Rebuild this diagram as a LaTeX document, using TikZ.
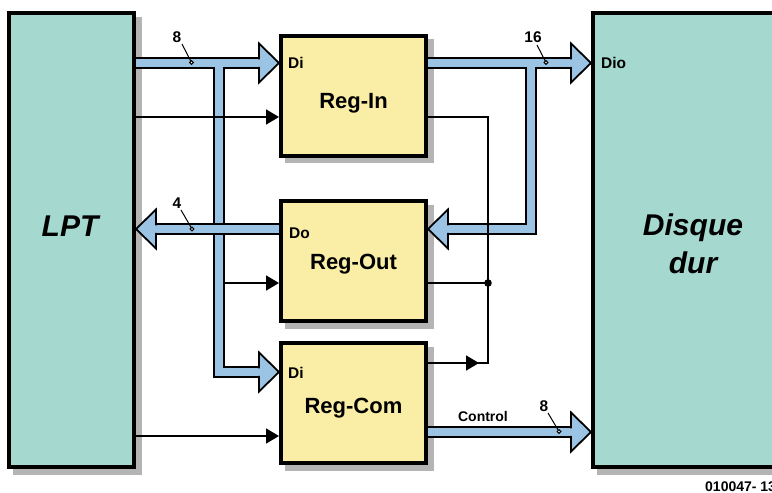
\documentclass[tikz,border=0pt]{standalone}
\usepackage{fontspec}
\setmainfont{Liberation Sans}
\setsansfont{Liberation Sans}
\usetikzlibrary{arrows.meta,calc}
\definecolor{boxteal}{HTML}{A5D9D0}
\definecolor{boxyellow}{HTML}{FAEEA6}
\definecolor{busblue}{HTML}{9BC4E4}
\definecolor{shadowgray}{HTML}{B4B4B4}
\pgfdeclarelayer{shadowlayer}
\pgfdeclarelayer{buslayer}
\pgfsetlayers{shadowlayer,buslayer,main}
\begin{document}
\begin{tikzpicture}[x=1pt,y=-1pt,
  blockbox/.style={draw=black, line width=4pt, inner sep=0pt, minimum width=145pt, minimum height=120pt, fill=boxyellow},
  sidebox/.style={draw=black, line width=4pt, inner sep=0pt, fill=boxteal, minimum height=454pt},
  busout/.style={line width=11.5pt, draw=black, line join=miter},
  busin/.style={line width=7.5pt, draw=busblue, line join=miter},
  headline/.style={line width=1.8pt, draw=black, line join=miter},
  sig/.style={line width=1.6pt, draw=black},
  sigarrow/.style={sig, -{Triangle[length=13pt,width=15pt]}},
  bigtxt/.style={font=\fontsize{30}{36}\selectfont\bfseries\itshape, anchor=base, inner sep=0pt},
  regtxt/.style={font=\fontsize{22}{26}\selectfont\bfseries, anchor=base, inner sep=0pt},
  pintxt/.style={font=\fontsize{15.5}{18}\selectfont\bfseries, anchor=base west, inner sep=0pt},
  numtxt/.style={font=\fontsize{15.5}{18}\selectfont\bfseries, anchor=base, inner sep=0pt},
  tickline/.style={line width=1pt, draw=black},
  tickdot/.style={line width=1pt, draw=black, fill=white},
  pics/bushead/.style={code={
    \fill[busblue] (-20.5,-19.5) -- (0,0) -- (-20.5,19.5) -- cycle;
    \draw[headline] (-20,-3.75) -- (-20,-19.5) -- (0,0) -- (-20,19.5) -- (-20,3.75);
  }},
]
\useasboundingbox (0,0) rectangle (772,493);

% boxes
\node[sidebox, minimum width=125pt] (lpt) at (71.5,240) {};
\node[sidebox, minimum width=250pt] (disque) at (718,240) {};
\node[blockbox] (regin) at (353.5,95.5) {};
\node[blockbox] (regout) at (353.5,261) {};
\node[blockbox] (regcom) at (353.5,403) {};

% shadows
\begin{pgfonlayer}{shadowlayer}
  \foreach \n in {lpt,disque,regin,regout,regcom}
    \fill[shadowgray] ($(\n.south west)+(5.5,5.5)$) rectangle ($(\n.north east)+(5.5,5.5)$);
\end{pgfonlayer}

% bus coordinates
\coordinate (jL) at (219,63);
\coordinate (cL) at (219,372);
\coordinate (hInA) at ($(regin.west|-jL)+(-20,0)$);
\coordinate (hComA) at ($(regcom.west|-cL)+(-20,0)$);
\coordinate (yOut) at (0,229);
\coordinate (hLptA) at ($(lpt.east|-yOut)+(20,0)$);
\coordinate (jR) at (531,63);
\coordinate (cR) at (531,229);
\coordinate (hDio) at ($(disque.west|-jR)+(-20,0)$);
\coordinate (hOutR) at ($(regout.east|-cR)+(20,0)$);
\coordinate (yCtl) at (0,432);
\coordinate (hCtl) at ($(disque.west|-yCtl)+(-20,0)$);

\begin{pgfonlayer}{buslayer}
  % left tree
  \draw[busout] ($(lpt.east|-jL)+(-4,0)$) -- (hInA) (jL) -- (cL) -- (hComA);
  \draw[busin]  ($(lpt.east|-jL)+(-4,0)$) -- (hInA) (jL) -- (cL) -- (hComA);
  \pic at (regin.west|-jL) {bushead};
  \pic at (regcom.west|-cL) {bushead};
  % 4-bit bus
  \draw[busout] ($(regout.west|-yOut)+(4,0)$) -- (hLptA);
  \draw[busin]  ($(regout.west|-yOut)+(4,0)$) -- (hLptA);
  \pic[rotate=180] at (lpt.east|-yOut) {bushead};
  % right tree
  \draw[busout] ($(regin.east|-jR)+(-4,0)$) -- (hDio) (jR) -- (cR) -- (hOutR);
  \draw[busin]  ($(regin.east|-jR)+(-4,0)$) -- (hDio) (jR) -- (cR) -- (hOutR);
  \pic at (disque.west|-jR) {bushead};
  \pic[rotate=180] at (regout.east|-cR) {bushead};
  % control bus
  \draw[busout] ($(regcom.east|-yCtl)+(-4,0)$) -- (hCtl);
  \draw[busin]  ($(regcom.east|-yCtl)+(-4,0)$) -- (hCtl);
  \pic at (disque.west|-yCtl) {bushead};
\end{pgfonlayer}

% signal lines
\coordinate (yA) at (0,117);
\coordinate (yB) at (0,283);
\coordinate (yC) at (0,436);
\coordinate (rTop) at (488,117);
\coordinate (dot) at (488,283);
\coordinate (rBot) at (488,363);
\draw[sigarrow] (lpt.east|-yA) -- (regin.west|-yA);
\draw[sigarrow] ($(cL|-yB)+(5.5,0)$) -- (regout.west|-yB);
\draw[sigarrow] (lpt.east|-yC) -- (regcom.west|-yC);
\draw[sig] (regin.east|-rTop) -- (rTop) -- (rBot) -- (regcom.east|-rBot);
\draw[sigarrow] (regcom.east|-rBot) -- ($(rBot)+(-9,0)$);
\draw[sig] (regout.east|-dot) -- (dot);
\fill (dot) circle (3.8);

% texts
\node[bigtxt] (lptlbl) at (70,236) {LPT};
\node[bigtxt] (disquelbl) at (693,235) {Disque};
\node[bigtxt] (durlbl) at (693,273) {dur};
\node[regtxt] (reginlbl) at (353.5,108) {Reg-In};
\node[regtxt] (regoutlbl) at (353.5,269) {Reg-Out};
\node[regtxt] (regcomlbl) at (353.5,413) {Reg-Com};
\node[pintxt] (diA) at (288,68) {Di};
\node[pintxt] (doA) at (289,238) {Do};
\node[pintxt] (diB) at (288,378) {Di};
\node[pintxt] (dioA) at (601,68) {Dio};
\node[font=\fontsize{14}{16}\selectfont\bfseries, anchor=base, inner sep=0pt] (ctllbl) at (483,421) {Control};
\node[font=\fontsize{14}{16}\selectfont\bfseries, anchor=base west, inner sep=0pt] (reflbl) at (705,491) {010047- 13};

% bus width labels
\node[numtxt] (n8a) at (177,42) {8};
\coordinate (d8a) at (191.5,62.5);
\draw[tickline] (182,44) -- (d8a);
\draw[tickdot] (d8a) circle (1.8);
\node[numtxt] (n16) at (533,42) {16};
\coordinate (d16) at (546,62.5);
\draw[tickline] (537,45) -- (d16);
\draw[tickdot] (d16) circle (1.8);
\node[numtxt] (n4) at (177,208) {4};
\coordinate (d4) at (192,229);
\draw[tickline] (181,210) -- (d4);
\draw[tickdot] (d4) circle (1.8);
\node[numtxt] (n8b) at (544,411) {8};
\coordinate (d8b) at (559,431.5);
\draw[tickline] (548,413) -- (d8b);
\draw[tickdot] (d8b) circle (1.8);
\end{tikzpicture}
\end{document}
